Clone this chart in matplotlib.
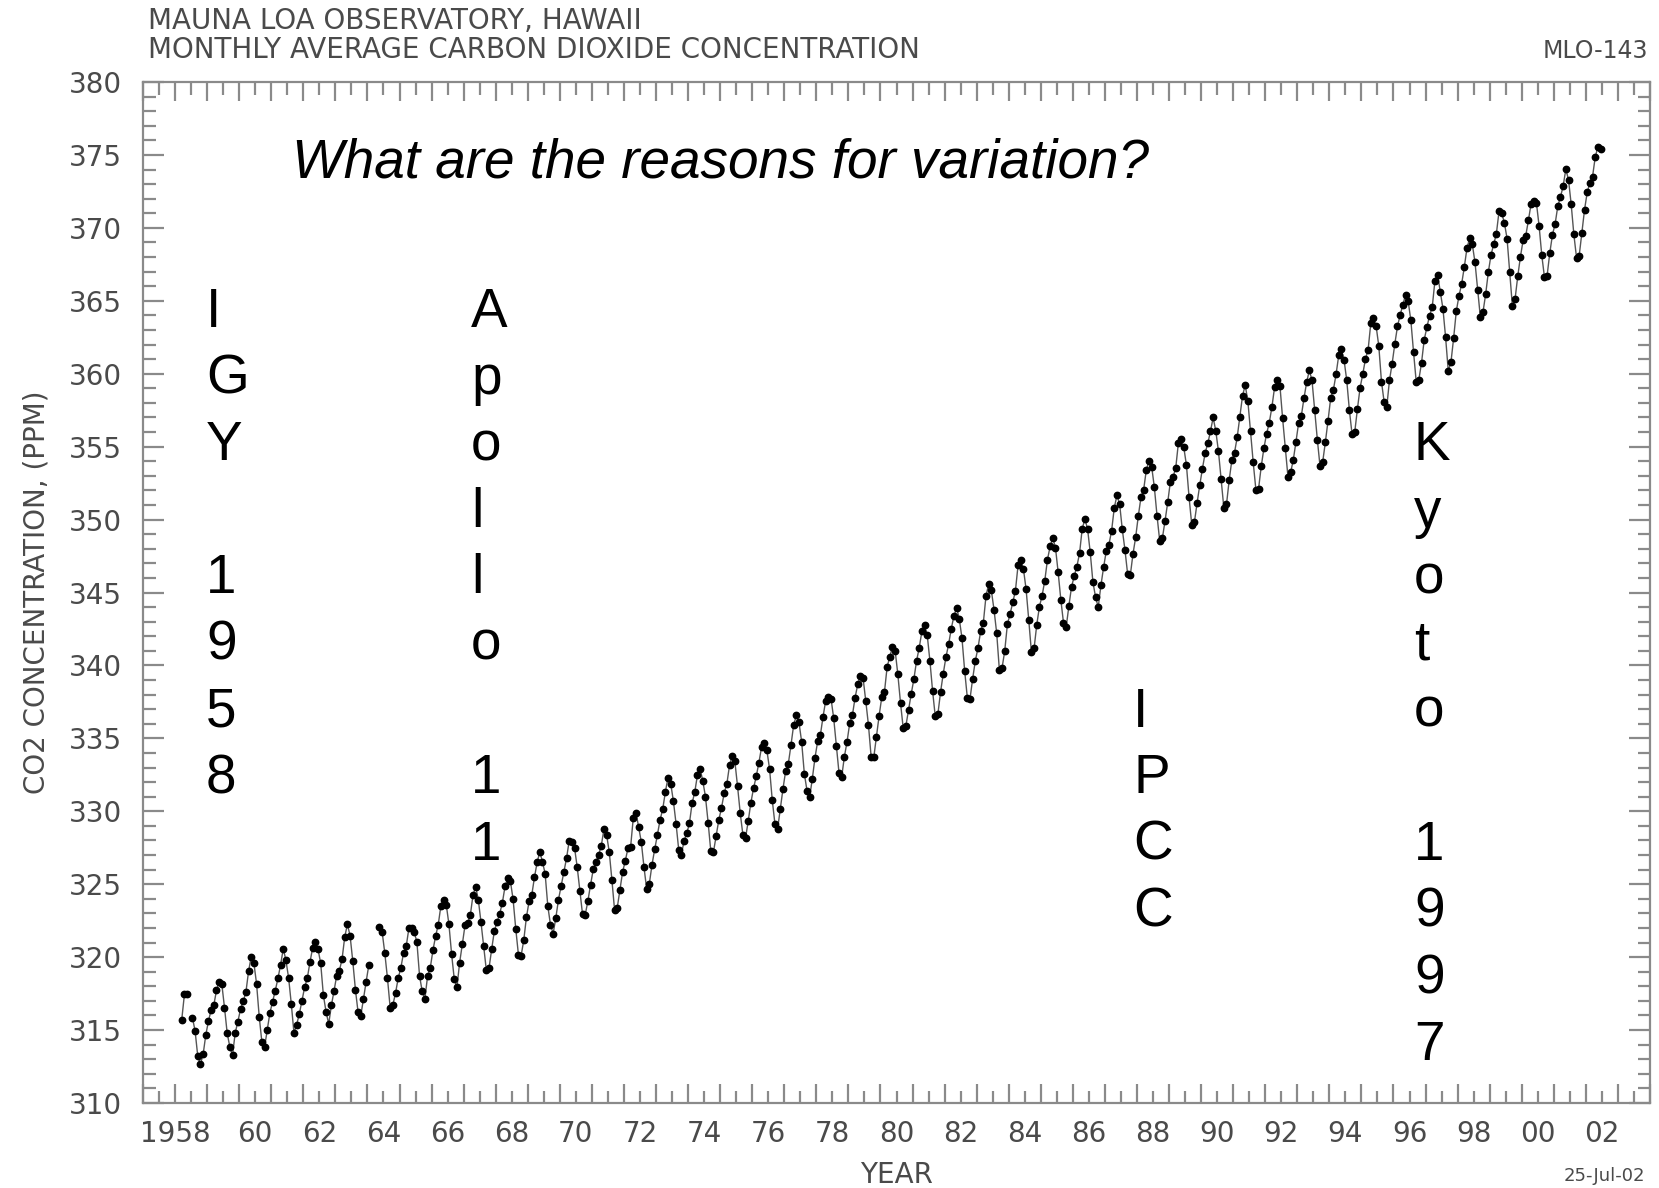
import numpy as np
import matplotlib
matplotlib.use("Agg")
import matplotlib.pyplot as plt
from matplotlib.ticker import FixedLocator, FixedFormatter
from matplotlib.transforms import ScaledTranslation

nan = np.nan
# Monthly mean CO2 (ppm), Mauna Loa, starting March 1958 (12 values per year after 1958)
co2_1958_1969 = [
    315.71, 317.45, 317.50, nan, 315.86, 314.93, 313.20, 312.66, 313.33, 314.67,
    315.62, 316.38, 316.71, 317.72, 318.29, 318.15, 316.54, 314.80, 313.84, 313.26, 314.80, 315.58,
    316.43, 316.97, 317.58, 319.02, 320.03, 319.59, 318.18, 315.91, 314.16, 313.83, 315.00, 316.19,
    316.93, 317.70, 318.54, 319.48, 320.58, 319.77, 318.57, 316.79, 314.80, 315.38, 316.10, 317.01,
    317.94, 318.56, 319.68, 320.63, 321.01, 320.55, 319.58, 317.40, 316.26, 315.42, 316.69, 317.69,
    318.74, 319.08, 319.86, 321.39, 322.25, 321.47, 319.74, 317.77, 316.21, 315.99, 317.12, 318.31,
    319.44, nan, nan, nan, 322.06, 321.73, 320.27, 318.54, 316.54, 316.71, 317.53, 318.55,
    319.27, 320.28, 320.73, 321.97, 322.00, 321.71, 321.05, 318.71, 317.65, 317.14, 318.70, 319.25,
    320.46, 321.43, 322.23, 323.54, 323.91, 323.59, 322.24, 320.20, 318.48, 317.94, 319.63, 320.87,
    322.17, 322.34, 322.88, 324.25, 324.83, 323.93, 322.38, 320.76, 319.10, 319.24, 320.56, 321.80,
    322.40, 322.99, 323.73, 324.86, 325.40, 325.20, 323.98, 321.95, 320.18, 320.09, 321.16, 322.74,
    323.83, 324.26, 325.47, 326.50, 327.21, 326.54, 325.72, 323.50, 322.22, 321.62, 322.69, 323.95,
]
co2_1970_1979 = [
    324.89, 325.82, 326.77, 327.97, 327.91, 327.50, 326.18, 324.53, 322.93, 322.90, 323.85, 324.96,
    326.01, 326.51, 327.01, 327.62, 328.76, 328.40, 327.20, 325.27, 323.20, 323.40, 324.63, 325.85,
    326.60, 327.47, 327.58, 329.56, 329.90, 328.92, 327.88, 326.16, 324.68, 325.04, 326.34, 327.39,
    328.37, 329.40, 330.14, 331.33, 332.31, 331.90, 330.70, 329.15, 327.35, 327.02, 327.99, 328.48,
    329.18, 330.55, 331.32, 332.48, 332.92, 332.08, 331.01, 329.23, 327.27, 327.21, 328.29, 329.41,
    330.23, 331.24, 331.87, 333.14, 333.80, 333.43, 331.73, 329.90, 328.40, 328.17, 329.32, 330.59,
    331.58, 332.39, 333.33, 334.41, 334.71, 334.17, 332.89, 330.77, 329.14, 328.78, 330.14, 331.52,
    332.75, 333.24, 334.53, 335.90, 336.57, 336.10, 334.76, 332.59, 331.42, 330.98, 332.24, 333.68,
    334.80, 335.22, 336.47, 337.59, 337.84, 337.72, 336.37, 334.51, 332.60, 332.38, 333.75, 334.78,
    336.05, 336.59, 337.79, 338.71, 339.30, 339.12, 337.56, 335.92, 333.75, 333.70, 335.12, 336.56,
]
co2_1980_1989 = [
    337.84, 338.19, 339.91, 340.60, 341.29, 341.00, 339.39, 337.43, 335.72, 335.84, 336.93, 338.04,
    339.06, 340.30, 341.21, 342.33, 342.74, 342.08, 340.32, 338.26, 336.52, 336.68, 338.19, 339.44,
    340.57, 341.44, 342.53, 343.39, 343.96, 343.18, 341.88, 339.65, 337.80, 337.69, 339.09, 340.32,
    341.20, 342.35, 342.93, 344.77, 345.58, 345.14, 343.81, 342.21, 339.69, 339.82, 340.98, 342.82,
    343.52, 344.33, 345.11, 346.88, 347.25, 346.62, 345.22, 343.11, 340.90, 341.18, 342.80, 344.04,
    344.79, 345.82, 347.25, 348.17, 348.74, 348.07, 346.38, 344.51, 342.92, 342.62, 344.06, 345.38,
    346.11, 346.78, 347.68, 349.37, 350.03, 349.37, 347.76, 345.73, 344.68, 343.99, 345.48, 346.72,
    347.84, 348.29, 349.23, 350.80, 351.66, 351.07, 349.33, 347.92, 346.27, 346.18, 347.64, 348.78,
    350.25, 351.54, 352.05, 353.41, 354.04, 353.62, 352.22, 350.27, 348.55, 348.72, 349.91, 351.18,
    352.60, 352.92, 353.53, 355.26, 355.52, 354.97, 353.75, 351.52, 349.64, 349.83, 351.14, 352.37,
]
co2_1990_1999 = [
    353.50, 354.55, 355.23, 356.04, 357.00, 356.07, 354.67, 352.76, 350.82, 351.04, 352.69, 354.07,
    354.59, 355.63, 357.03, 358.48, 359.22, 358.12, 356.06, 353.92, 352.05, 352.11, 353.64, 354.89,
    355.88, 356.63, 357.72, 359.07, 359.58, 359.17, 356.94, 354.92, 352.94, 353.23, 354.09, 355.33,
    356.63, 357.10, 358.32, 359.41, 360.23, 359.55, 357.53, 355.48, 353.67, 353.95, 355.30, 356.78,
    358.34, 358.89, 359.95, 361.25, 361.67, 360.94, 359.55, 357.49, 355.84, 356.00, 357.58, 359.04,
    359.97, 361.00, 361.64, 363.45, 363.79, 363.26, 361.90, 359.46, 358.06, 357.75, 359.56, 360.70,
    362.05, 363.25, 364.03, 364.72, 365.41, 364.97, 363.65, 361.49, 359.46, 359.60, 360.76, 362.33,
    363.18, 363.99, 364.56, 366.36, 366.80, 365.63, 364.47, 362.50, 360.19, 360.78, 362.43, 364.28,
    365.33, 366.15, 367.31, 368.61, 369.29, 368.87, 367.64, 365.77, 363.90, 364.23, 365.46, 366.97,
    368.15, 368.87, 369.59, 371.14, 371.00, 370.35, 369.27, 366.94, 364.63, 365.12, 366.67, 368.01,
]
co2_2000_2002 = [
    369.14, 369.46, 370.52, 371.66, 371.82, 371.70, 370.12, 368.12, 366.62, 366.73, 368.29, 369.53,
    370.28, 371.50, 372.12, 372.87, 374.02, 373.30, 371.62, 369.55, 367.96, 368.09, 369.68, 371.24,
    372.44, 373.08, 373.52, 374.85, 375.55, 375.40,
]
start_year = 1958
start_month = 3

year_tick_labels = ["1958", "60", "62", "64", "66", "68", "70", "72", "74", "76", "78",
                    "80", "82", "84", "86", "88", "90", "92", "94", "96", "98", "00", "02"]
label_years = list(range(1958, 2003, 2))

igy_text = ["I", "G", "Y", "", "1", "9", "5", "8"]
apollo_text = ["A", "p", "o", "l", "l", "o", "", "1", "1"]
ipcc_text = ["I", "P", "C", "C"]
kyoto_text = ["K", "y", "o", "t", "o", "", "1", "9", "9", "7"]

# ---------------------------------------------------------------
values = np.array(co2_1958_1969 + co2_1970_1979 + co2_1980_1989 + co2_1990_1999 + co2_2000_2002)
idx = np.arange(len(values)) + (start_month - 1)
times = start_year + (idx + 0.5) / 12.0

W, H = 1659, 1188
fig = plt.figure(figsize=(W / 100, H / 100), dpi=100)
fig.patch.set_facecolor("white")

L, R, T, B = 143, 1650, 82, 1103
ax = fig.add_axes([L / W, 1 - B / H, (R - L) / W, (B - T) / H])
ax.set_xlim(1957, 2004)
ax.set_ylim(310, 380)

gray = "#8a8a8a"
txtgray = "#4a4a4a"
for s in ax.spines.values():
    s.set_color(gray)
    s.set_linewidth(1.6)

ax.plot(times, values, "-", color="#555555", lw=1.0, marker="o", ms=4.6,
        mfc="black", mec="black", zorder=3)

# x ticks: tall at year boundaries, short at half years; labels at half years
ax.xaxis.set_major_locator(FixedLocator(np.arange(1957, 2005)))
ax.xaxis.set_major_formatter(FixedFormatter([""] * 48))
minor_pos = np.arange(1957, 2004) + 0.5
minor_labels = []
for p in minor_pos:
    y = int(p - 0.5)
    minor_labels.append(year_tick_labels[label_years.index(y)] if y in label_years else "")
ax.xaxis.set_minor_locator(FixedLocator(minor_pos))
ax.xaxis.set_minor_formatter(FixedFormatter(minor_labels))

ax.yaxis.set_major_locator(FixedLocator(np.arange(310, 381, 5)))
ax.yaxis.set_minor_locator(FixedLocator(np.arange(310, 381, 1)))

ax.tick_params(axis="both", which="both", direction="in", colors=gray, width=1.6,
               labelcolor=txtgray, labelsize=20, top=True, right=True)
ax.tick_params(axis="x", which="major", length=14, pad=12)
ax.tick_params(axis="x", which="minor", length=9, pad=12)
ax.tick_params(axis="y", which="major", length=15, pad=15)
ax.tick_params(axis="y", which="minor", length=9)

for lab in ax.xaxis.get_minorticklabels():
    if lab.get_text() == "1958":
        lab.set_transform(lab.get_transform() + ScaledTranslation(-16 / 100, 0, fig.dpi_scale_trans))

def fpos(x, y):
    return x / W, 1 - y / H

fig.text(*fpos(148, 21), "MAUNA LOA OBSERVATORY, HAWAII", fontsize=20, color=txtgray,
         ha="left", va="center")
fig.text(*fpos(148, 50), "MONTHLY AVERAGE CARBON DIOXIDE CONCENTRATION", fontsize=20,
         color=txtgray, ha="left", va="center")
fig.text(*fpos(1648, 51), "MLO-143", fontsize=17, color=txtgray, ha="right", va="center")
fig.text(*fpos(896, 1175), "YEAR", fontsize=20, color=txtgray, ha="center", va="center")
fig.text(*fpos(1645, 1176), "25-Jul-02", fontsize=13, color=txtgray, ha="right", va="center")
fig.text(*fpos(37, 592), "CO2 CONCENTRATION, (PPM)", fontsize=20, color=txtgray,
         rotation=90, ha="center", va="center")

big = dict(fontsize=39.5, family=["Liberation Sans", "DejaVu Sans"], color="black")
fig.text(*fpos(292, 177), "What are the reasons for variation?", style="italic",
         ha="left", va="baseline", **big)

pitch = 66.6
def column(chars, x, base0):
    for i, c in enumerate(chars):
        if c:
            fig.text(*fpos(x, base0 + i * pitch), c, ha="left", va="baseline", **big)

column(igy_text, 206, 327)
column(apollo_text, 471, 327)
column(ipcc_text, 1133, 327 + 6 * pitch)
column(kyoto_text, 1414, 327 + 2 * pitch)

fig.savefig("out.png", dpi=100)
